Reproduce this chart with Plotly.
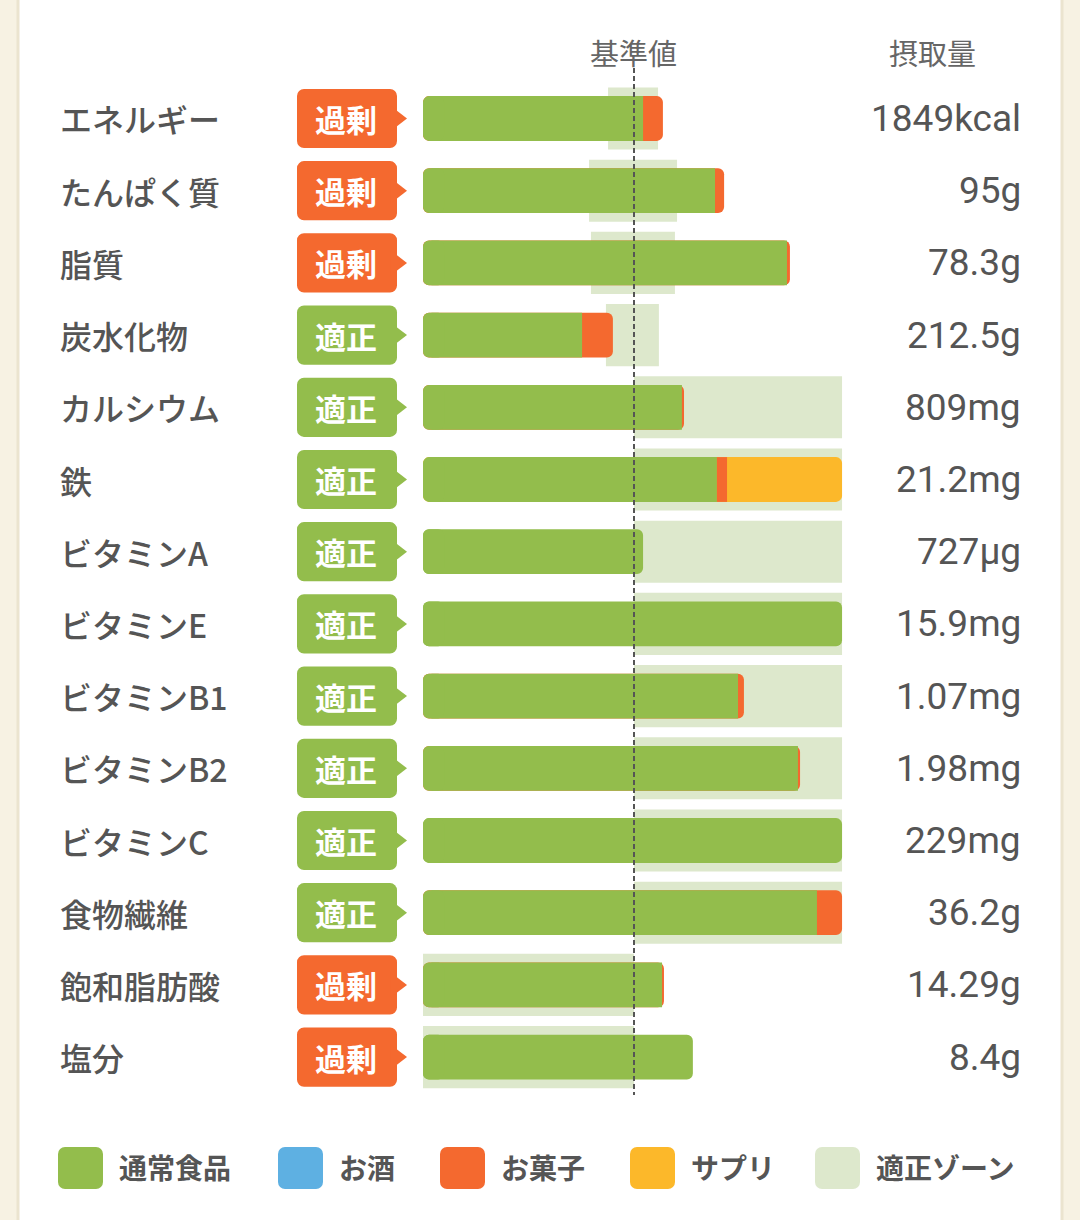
import plotly.graph_objects as go

# 栄養素ごとのデータ（基準値=100 とした割合で表示）
nutrients = ["エネルギー", "たんぱく質", "脂質", "炭水化物", "カルシウム", "鉄",
             "ビタミンA", "ビタミンE", "ビタミンB1", "ビタミンB2", "ビタミンC",
             "食物繊維", "飽和脂肪酸", "塩分"]
status = ["過剰", "過剰", "過剰", "適正", "適正", "適正", "適正", "適正",
          "適正", "適正", "適正", "適正", "過剰", "過剰"]
intake_text = ["1849kcal", "95g", "78.3g", "212.5g", "809mg", "21.2mg", "727μg",
               "15.9mg", "1.07mg", "1.98mg", "229mg", "36.2g", "14.29g", "8.4g"]

normal_food = [104.3, 138.4, 172.5, 75.4, 122.7, 139.3, 104.3, 198.6, 149.3,
               177.7, 198.6, 186.7, 113.3, 127.9]
alcohol = [0, 0, 0, 0, 0, 0, 0, 0, 0, 0, 0, 0, 0, 0]
snack = [9.4, 4.3, 1.4, 14.6, 1.0, 4.8, 0, 0, 2.8, 1.0, 0, 11.9, 0.9, 0]
supplement = [0, 0, 0, 0, 0, 54.5, 0, 0, 0, 0, 0, 0, 0, 0]

zone_low = [87.7, 78.7, 79.6, 86.7, 100, 100, 100, 100, 100, 100, 100, 100, 0, 0]
zone_high = [111.4, 120.4, 119.4, 111.8, 198.6, 198.6, 198.6, 198.6, 198.6,
             198.6, 198.6, 198.6, 100, 100]

legend_names = ["通常食品", "お酒", "お菓子", "サプリ", "適正ゾーン"]

# ── 色・寸法 ──────────────────────────
GREEN = "#93bd4c"
BLUE = "#5eb0e2"
ORANGE = "#f4692f"
YELLOW = "#fcb82a"
ZONE = "#dde8cc"
TEXT = "#555555"
CREAM = "#f7f2e3"
seg_colors = [GREEN, BLUE, ORANGE, YELLOW]
legend_colors = [GREEN, BLUE, ORANGE, YELLOW, ZONE]
badge_colors = {"過剰": ORANGE, "適正": GREEN}

W, H = 1080, 1220
ROW_TOP, ROW_BOTTOM = 82.4, 1093.2
JP = "Noto Sans CJK JP"
n = len(nutrients)
NOLINE = dict(width=0)

fig = go.Figure()

# 適正ゾーン
fig.add_trace(go.Bar(
    y=nutrients, x=[h - l for l, h in zip(zone_low, zone_high)], base=zone_low,
    orientation="h", width=0.86, marker=dict(color=ZONE, cornerradius=0, line=NOLINE),
    xaxis="x", yaxis="y", hoverinfo="skip",
))

# 積み上げバー
segments = [normal_food, alcohol, snack, supplement]
totals, last_idx = [], []
for i in range(n):
    vals = [s[i] for s in segments]
    totals.append(sum(vals))
    last_idx.append(max(k for k, v in enumerate(vals) if v > 0))

# 全体（両端を丸め、最後のセグメントの色で塗る）
fig.add_trace(go.Bar(
    y=nutrients, x=totals, base=[0] * n, orientation="h", width=0.62,
    marker=dict(color=[seg_colors[k] for k in last_idx], cornerradius=6, line=NOLINE),
    hoverinfo="skip",
))
# 途中のセグメント（角なし）
start = [0.0] * n
for k, seg in enumerate(segments):
    xs, bs = [], []
    for i in range(n):
        b = 4 if k == 0 else start[i]
        end = start[i] + seg[i]
        xs.append(end - b if k < last_idx[i] else 0)
        bs.append(b)
        start[i] = end
    fig.add_trace(go.Bar(
        y=nutrients, x=xs, base=bs, orientation="h", width=0.62,
        marker=dict(color=seg_colors[k], cornerradius=0, line=NOLINE), hoverinfo="skip",
    ))
# 左端の丸み
fig.add_trace(go.Bar(
    y=nutrients, x=[10] * n, base=[0] * n, orientation="h", width=0.62,
    marker=dict(color=GREEN, cornerradius=6, line=NOLINE), hoverinfo="skip",
))

# 判定バッジ（ピクセル軸 x2 上）
b_cols = [badge_colors[s] for s in status]
fig.add_trace(go.Bar(
    y=nutrients, x=[100] * n, base=[297] * n,
    orientation="h", width=0.82, marker=dict(color=b_cols, cornerradius=7, line=NOLINE),
    xaxis="x2", yaxis="y", hoverinfo="skip",
))
fig.add_trace(go.Scatter(
    y=nutrients, x=[396] * n, mode="markers",
    marker=dict(symbol="triangle-right", size=22, color=b_cols, line=NOLINE),
    xaxis="x2", yaxis="y", hoverinfo="skip",
))

# 凡例（ピクセル軸 x2/y2）
sq_left = [58, 278, 440, 630, 815]
fig.add_trace(go.Bar(
    y=[1168] * 5, x=[45] * 5, base=sq_left,
    orientation="h", width=42,
    marker=dict(color=legend_colors, cornerradius=7, line=NOLINE),
    xaxis="x2", yaxis="y2", hoverinfo="skip",
))

annotations = []
for name, st, val in zip(nutrients, status, intake_text):
    annotations.append(dict(x=58, y=name, xref="x2", yref="y", text=name,
                            xanchor="left", showarrow=False,
                            font=dict(family=JP, size=32, color=TEXT, weight=500)))
    annotations.append(dict(x=346, y=name, xref="x2", yref="y", text=st,
                            showarrow=False,
                            font=dict(family=JP, size=31, color="white", weight="bold")))
    annotations.append(dict(x=1023, y=name, xref="x2", yref="y", text=val,
                            xanchor="right", showarrow=False,
                            font=dict(family="Roboto", size=37, color=TEXT)))
for l, name in zip(sq_left, legend_names):
    annotations.append(dict(x=l + 59, y=1167, xref="x2", yref="y2", text=name,
                            xanchor="left", showarrow=False,
                            font=dict(family=JP, size=28, color=TEXT, weight="bold")))
for x, txt in ((633, "基準値"), (932, "摂取量")):
    annotations.append(dict(x=x, y=52, xref="x2", yref="y2", text=txt,
                            showarrow=False,
                            font=dict(family=JP, size=29, color="#666666")))

shapes = [
    # 白いカード
    dict(type="rect", xref="paper", yref="paper", x0=18 / W, x1=1062 / W, y0=0, y1=1,
         fillcolor="white", line=dict(width=0), layer="below"),
    dict(type="line", xref="paper", yref="paper", x0=18 / W, x1=18 / W, y0=0, y1=1,
         line=dict(color="#ebe4cf", width=3), layer="below"),
    dict(type="line", xref="paper", yref="paper", x0=1062 / W, x1=1062 / W, y0=0, y1=1,
         line=dict(color="#ebe4cf", width=3), layer="below"),
    # 基準値ライン
    dict(type="line", xref="x", yref="y2", x0=100, x1=100, y0=68, y1=1095,
         line=dict(color="#555555", width=2, dash="5px,3px"), layer="above"),
]

fig.update_layout(
    width=W, height=H,
    margin=dict(l=0, r=0, t=0, b=0),
    paper_bgcolor=CREAM, plot_bgcolor="rgba(0,0,0,0)",
    barmode="overlay", showlegend=False,
    xaxis=dict(domain=[423 / W, 845 / W], range=[0, 200], visible=False,
               fixedrange=True, anchor="y"),
    yaxis=dict(domain=[1 - ROW_BOTTOM / H, 1 - ROW_TOP / H], type="category",
               categoryorder="array", categoryarray=nutrients,
               range=[n - 0.5, -0.5], visible=False, anchor="x"),
    xaxis2=dict(domain=[0, 1], range=[0, W], visible=False, anchor="y"),
    yaxis2=dict(domain=[0, 1], range=[H, 0], visible=False, anchor="x2"),
    annotations=annotations, shapes=shapes,
)

# ページの余白を消して図を左上にぴったり合わせる
fig.write_html(
    "out.html",
    config={"displayModeBar": False},
    post_script="document.body.style.margin='0';document.body.style.background='%s';" % CREAM,
)
